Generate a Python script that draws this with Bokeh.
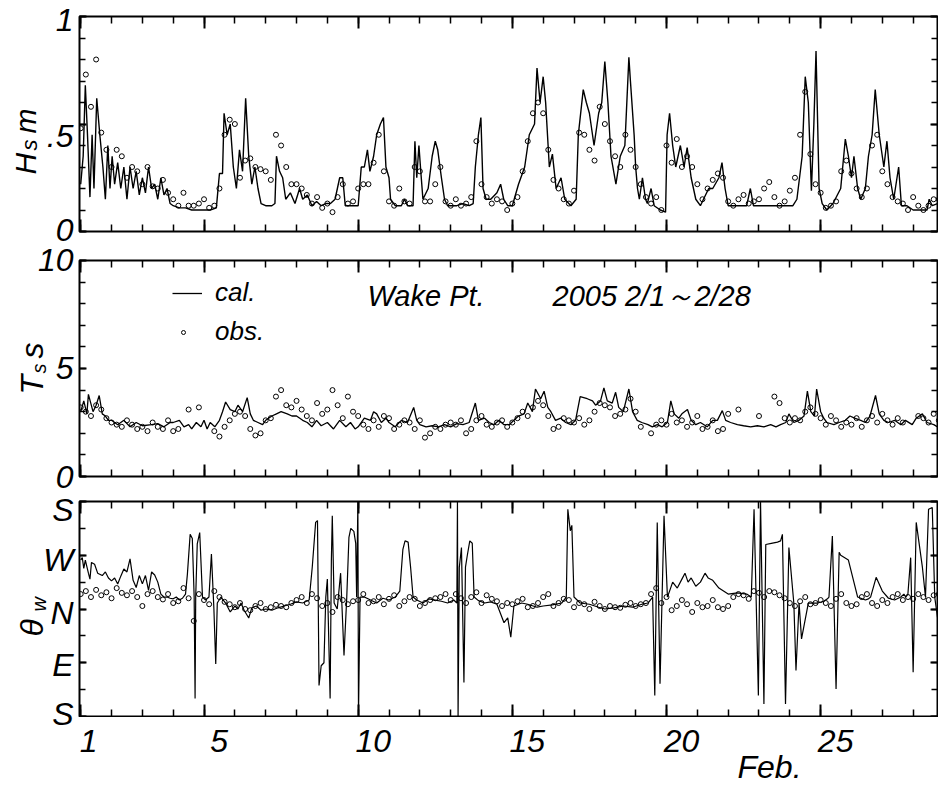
import math
from bokeh.plotting import figure
from bokeh.models import (LinearAxis, FixedTicker, Range1d, Label, Legend, LegendItem)
from bokeh.layouts import column, row
from bokeh.embed import file_html
from bokeh.resources import INLINE

nan = float("nan")

# ---------------- data ----------------
x_ticks = [1, 5, 10, 15, 20, 25]
x_tick_labels = ["1", "5", "10", "15", "20", "25"]
x_minor = list(range(1, 29))

hs_ticks = [0, 0.5, 1]
hs_tick_labels = ["0", ".5", "1"]
ts_ticks = [0, 5, 10]
ts_tick_labels = ["0", "5", "10"]
dir_ticks = [0, 90, 180, 270, 360]
dir_labels = ["S", "E", "N", "W", "S"]

# significant wave height (m), calculated: (day, value)
hs_cal_t = [1.0,1.08,1.15,1.22,1.3,1.37,1.43,1.52,1.62,1.72,1.8,1.88,1.95,2.02,2.1,2.2,2.3,2.4,2.5,2.6,2.7,2.8,2.9,3.0,3.1,3.2,3.3,3.4,3.5,3.6,3.7,3.8,3.9,4.0,4.2,4.4,4.6,4.8,5.0,5.2,5.4,5.5,5.6,5.65,5.75,5.85,5.95,6.05,6.15,6.25,6.35,6.45,6.55,6.65,6.75,6.85,7.0,7.2,7.3,7.35,7.45,7.55,7.65,7.8,7.95,8.1,8.2,8.35,8.5,8.65,8.8,8.95,
            9.1,9.25,9.4,9.5,9.58,9.8,10.0,10.1,10.2,10.3,10.38,10.5,10.6,10.72,10.82,10.9,11.0,11.05,11.2,11.4,11.5,11.6,11.78,11.84,11.9,11.97,12.03,12.1,12.27,12.4,12.5,12.58,12.7,12.8,12.9,13.2,13.4,13.6,13.73,13.8,13.9,13.98,14.05,14.15,14.3,14.5,14.62,14.72,14.85,15.0,15.2,15.4,15.55,15.72,15.8,15.9,16.0,16.08,16.2,16.3,16.42,16.58,16.7,16.9,17.07,17.14,17.3,17.4,17.5,17.65,17.8,17.9,18.0,18.1,18.2,18.36,18.5,18.65,18.78,18.83,
            18.95,19.0,19.06,19.12,19.22,19.32,19.38,19.5,19.6,19.8,19.97,20.02,20.1,20.2,20.3,20.45,20.57,20.67,20.8,20.95,21.1,21.2,21.37,21.5,21.7,21.8,21.9,22.0,22.3,22.6,22.72,22.82,23.0,23.4,23.8,24.1,24.23,24.4,24.5,24.6,24.7,24.78,24.85,24.95,25.05,25.2,25.4,25.65,25.8,25.9,26.0,26.08,26.2,26.3,26.45,26.55,26.67,26.77,26.9,27.05,27.15,27.25,27.37,27.53,27.62,27.8,28.0,28.45,28.52,28.62,28.79]
hs_cal_v = [0.22,0.35,0.68,0.45,0.16,0.45,0.2,0.62,0.45,0.3,0.15,0.4,0.2,0.35,0.22,0.32,0.2,0.3,0.15,0.3,0.2,0.28,0.17,0.25,0.18,0.3,0.2,0.22,0.15,0.25,0.17,0.2,0.13,0.12,0.11,0.11,0.1,0.1,0.1,0.1,0.11,0.27,0.27,0.55,0.45,0.5,0.3,0.2,0.38,0.28,0.62,0.35,0.22,0.3,0.2,0.13,0.12,0.12,0.13,0.35,0.28,0.25,0.15,0.18,0.13,0.2,0.15,0.17,0.12,0.14,0.12,0.13,
            0.13,0.15,0.25,0.25,0.12,0.12,0.12,0.3,0.3,0.38,0.28,0.35,0.45,0.5,0.53,0.3,0.25,0.15,0.12,0.12,0.15,0.12,0.12,0.42,0.25,0.4,0.28,0.15,0.2,0.35,0.42,0.38,0.25,0.15,0.12,0.12,0.13,0.12,0.13,0.3,0.45,0.53,0.2,0.15,0.15,0.18,0.22,0.15,0.12,0.12,0.22,0.3,0.45,0.5,0.76,0.6,0.72,0.6,0.3,0.36,0.2,0.25,0.15,0.12,0.15,0.45,0.66,0.6,0.55,0.4,0.55,0.6,0.79,0.6,0.35,0.22,0.35,0.4,0.81,0.7,
            0.45,0.3,0.2,0.15,0.25,0.15,0.13,0.2,0.12,0.1,0.09,0.45,0.55,0.4,0.3,0.4,0.3,0.39,0.25,0.15,0.12,0.15,0.2,0.2,0.25,0.32,0.2,0.12,0.12,0.12,0.2,0.12,0.12,0.12,0.12,0.12,0.15,0.35,0.72,0.6,0.19,0.5,0.84,0.2,0.13,0.1,0.13,0.2,0.43,0.35,0.25,0.35,0.2,0.15,0.2,0.35,0.45,0.66,0.45,0.3,0.42,0.25,0.15,0.3,0.12,0.12,0.1,0.1,0.15,0.12,0.13]

# observed Hs, every 4 h from Feb 1 00:00
hs_obs = [0.48,0.73,0.58,0.80,0.46,0.38, 0.30,0.38,0.35,0.25,0.30,0.28, 0.22,0.30,0.21,0.20,0.24,0.18,
          0.15,0.12,0.18,0.12,0.12,0.13, 0.15,0.11,0.12,0.20,0.45,0.52, 0.50,0.25,0.33,0.34,0.30,0.29,
          0.28,0.24,0.45,0.40,0.30,0.22, 0.22,0.20,0.17,0.13,0.16,0.11, 0.13,0.09,0.16,0.22,0.13,0.14,
          0.20,0.22,0.22,0.32,0.45,0.28, 0.14,0.12,0.20,0.14,0.13,0.30, 0.28,0.14,0.14,0.22,0.30,0.14,
          0.12,0.15,0.12,0.13,0.16,0.42, 0.22,0.16,0.13,0.15,0.14,0.10, 0.13,0.16,0.28,0.42,0.55,0.60,
          0.55,0.38,0.24,0.20,0.15,0.13, 0.19,0.46,0.45,0.38,0.33,0.58, 0.50,0.42,0.35,0.30,0.45,0.38,
          0.30,0.22,0.16,0.13,0.16,0.10, 0.40,0.32,0.43,0.30,0.35,0.30, 0.22,0.15,0.20,0.24,0.27,0.25,
          0.14,0.12,0.15,0.17,0.13,0.14, 0.15,0.20,0.23,0.16,0.12,0.14, 0.19,0.25,0.45,0.65,0.36,0.22,
          0.18,0.11,0.12,0.14,0.28,0.33, 0.27,0.20,0.16,0.20,0.40,0.45, 0.28,0.22,0.16,0.14,0.13,0.10,
          0.16,0.12,0.10,0.12,0.15,0.15]

# significant wave period (s), calculated: (day, value)
ts_cal_t = [1.0,1.1,1.2,1.25,1.4,1.5,1.6,1.7,1.8,1.9,2.0,2.2,2.4,2.6,2.8,3.0,3.3,3.5,3.7,3.9,4.0,4.2,4.35,4.5,4.6,4.75,4.9,5.0,5.1,5.2,5.35,5.5,5.6,5.7,5.85,6.0,6.1,6.25,6.4,6.5,6.6,6.75,6.9,7.0,7.2,7.35,7.5,7.7,7.85,8.0,8.2,8.35,8.5,8.65,8.8,9.0,9.2,9.4,9.6,9.75,9.9,10.0,10.2,10.4,10.5,10.6,10.75,10.9,11.0,11.2,11.4,11.6,11.8,11.9,12.0,12.2,12.4,12.6,12.8,13.0,13.2,13.4,13.6,13.8,13.9,14.1,14.25,14.4,14.57,14.73,14.9,
            15.05,15.2,15.38,15.5,15.65,15.75,15.92,16.03,16.15,16.25,16.4,16.57,16.73,16.9,17.05,17.2,17.43,17.6,17.7,17.86,17.97,18.08,18.24,18.35,18.45,18.6,18.78,18.9,19.05,19.2,19.4,19.54,19.7,19.86,20.03,20.14,20.25,20.4,20.5,20.68,20.8,20.95,21.1,21.32,21.5,21.65,21.81,21.92,22.08,22.3,22.5,22.73,22.95,23.16,23.38,23.55,23.7,23.87,23.97,24.13,24.3,24.46,24.57,24.68,24.8,24.87,25.0,25.1,25.2,25.43,25.6,25.8,25.95,26.1,26.3,26.45,26.6,26.78,26.9,27.05,27.2,27.4,27.6,27.75,27.97,28.1,28.3,28.45,28.67,28.79]
ts_cal_v = [3.0,3.5,2.9,3.8,3.0,3.3,3.75,2.9,2.8,2.6,2.6,2.4,2.6,2.3,2.5,2.35,2.4,2.45,2.3,2.5,2.5,2.6,2.3,2.4,2.2,2.5,2.3,2.6,2.2,2.5,2.3,2.6,3.0,3.45,3.1,3.0,3.3,3.0,3.65,2.9,2.6,2.5,2.4,2.6,2.8,2.9,3.0,2.9,2.8,2.8,2.6,2.5,2.3,2.6,2.35,2.5,2.2,2.6,2.3,2.5,2.2,2.3,2.7,2.6,3.0,2.9,2.5,2.7,2.5,2.3,2.6,2.5,3.2,2.6,2.4,2.3,2.35,2.3,2.4,2.3,2.45,2.4,2.5,3.4,2.6,2.7,2.5,2.4,2.6,2.4,2.4,
            2.6,2.8,2.9,3.4,3.0,4.05,3.6,3.95,3.2,3.0,2.6,2.7,2.5,2.4,2.6,3.7,3.6,3.5,3.3,3.5,4.1,3.5,3.4,3.9,3.2,3.0,4.05,3.0,2.6,2.5,2.4,2.3,2.4,2.3,2.5,3.5,2.9,2.7,2.9,3.1,2.6,2.4,2.5,2.3,2.6,2.6,3.05,2.6,2.5,2.4,2.35,2.3,2.35,2.3,2.4,2.3,2.4,2.5,2.9,2.5,2.6,2.8,3.95,3.0,2.8,4.05,3.0,2.7,2.5,2.4,2.5,2.6,2.8,2.7,2.6,2.5,2.8,3.75,2.9,2.6,2.5,2.6,2.4,2.6,2.4,2.7,2.9,2.5,2.4,2.3]

# observed Ts, every 4 h (nan = missing)
ts_obs = [3.2,3.0,2.8,3.3,3.1,2.7, 2.5,2.4,2.3,2.6,2.4,2.2, 2.3,2.1,2.5,2.3,2.2,2.6,
          2.1,2.2,nan,3.1,nan,3.2, nan,nan,2.1,1.85,2.3,2.6, 2.9,3.0,2.8,2.2,1.9,2.0,
          2.6,2.7,3.7,4.0,3.3,3.2, 3.5,3.1,2.8,2.6,3.4,2.9, 3.1,4.0,3.3,2.7,3.7,3.0,
          2.8,2.4,2.2,2.6,2.3,2.8, 2.7,2.2,2.4,2.6,2.5,2.2, 2.6,1.8,2.0,2.3,2.2,2.4,
          2.5,2.4,2.6,2.0,2.2,2.6, 2.8,2.4,2.3,2.5,2.6,2.3, 2.5,2.7,3.0,2.8,3.2,3.5,
          3.3,2.8,2.2,2.3,2.7,2.6, 2.5,2.7,2.4,2.6,3.0,3.4, 3.3,3.2,2.8,2.9,3.1,3.6,
          3.0,2.3,nan,2.0,2.4,2.6, 2.4,2.9,2.5,2.6,2.3,2.5, 2.8,2.2,2.3,2.6,2.1,2.2,
          2.9,nan,3.1,nan,nan,nan, 2.8,nan,nan,3.7,3.4,2.7, 2.5,2.7,2.6,3.0,3.2,2.9,
          2.7,2.4,2.8,2.6,2.3,2.5, 2.4,2.7,2.3,2.6,2.8,2.5, 2.9,2.6,2.4,2.7,2.5,nan,
          nan,2.8,2.7,2.5,2.9,2.6]

# wave direction (deg; S=0, E=90, N=180, W=270, S=360), calculated: (day, value)
th_cal_t = [1.0,1.05,1.1,1.15,1.25,1.3,1.35,1.45,1.55,1.7,1.8,1.9,2.0,2.1,2.2,2.3,2.4,2.5,2.6,2.7,2.8,2.9,3.0,3.1,3.2,3.3,3.4,3.5,3.6,3.7,3.8,3.9,4.0,4.1,4.2,4.3,4.4,4.46,4.55,4.62,4.68,4.71,4.73,4.78,4.86,4.95,5.05,5.16,5.24,5.32,5.38,5.43,5.55,5.7,5.85,6.0,6.1,6.2,6.3,6.45,6.55,6.7,6.85,7.0,7.2,7.4,7.6,7.8,8.0,8.2,8.41,8.51,8.62,8.68,8.73,8.8,8.89,8.95,9.0,9.09,9.13,9.16,9.22,9.32,9.43,9.54,9.63,9.7,9.76,9.86,9.92,9.95,9.99,10.01,10.06,10.2,10.4,10.6,10.8,11.0,11.2,11.35,11.45,11.52,11.62,11.7,11.78,11.9,12.1,12.3,12.5,12.7,12.9,13.1,13.2,13.22,13.24,13.28,13.35,13.43,13.48,13.54,13.62,13.7,13.76,13.9,14.1,14.3,14.5,14.73,14.85,14.95,15.05,15.3,15.5,15.8,16.0,16.3,16.6,16.75,16.8,16.88,16.93,17.0,17.2,17.5,17.8,18.0,18.3,18.6,18.9,19.2,19.4,19.55,19.62,19.7,19.79,19.92,20.03,20.1,20.2,20.35,20.5,20.6,20.7,20.8,20.95,21.1,21.25,21.35,21.5,21.7,21.85,22.0,22.3,22.6,22.75,22.84,22.98,23.05,23.16,23.22,23.4,23.6,23.7,23.76,23.86,23.97,24.13,24.2,24.3,24.38,24.6,24.9,25.1,25.22,25.27,25.38,25.5,25.6,25.65,25.9,26.2,26.45,26.55,26.62,26.8,27.0,27.2,27.4,27.6,27.7,27.76,27.83,27.92,28.0,28.1,28.3,28.4,28.5,28.62,28.7,28.79]
th_cal_v = [262,266,248,262,240,230,258,255,240,236,242,232,227,232,222,235,247,242,264,228,216,236,222,236,211,242,237,225,205,200,200,198,197,200,195,198,205,238,305,298,200,30,200,289,308,200,195,200,272,180,88,190,200,190,175,185,180,190,178,165,182,185,178,180,178,182,185,188,192,190,195,250,325,328,52,85,90,200,230,30,260,336,190,180,240,102,200,300,315,310,290,200,360,0,200,200,195,190,198,195,200,210,280,294,292,250,200,195,190,197,195,193,190,195,190,360,0,250,283,57,250,270,294,290,200,194,190,192,188,157,165,133,185,190,188,183,185,187,190,200,347,311,320,200,190,188,183,180,182,185,183,188,190,200,35,325,55,336,200,210,225,215,230,240,225,232,218,225,240,232,228,215,210,205,207,205,200,347,35,360,21,288,290,292,294,305,21,283,190,77,190,130,190,190,193,197,200,302,46,275,270,262,200,195,197,200,233,210,198,195,200,205,200,205,266,74,325,250,200,347,350,200,166,200,205]

# observed direction, every 4 h
th_obs = [205,210,200,212,203,208, 198,215,207,203,210,200, 185,205,210,200,196,205,
          190,193,215,198,160,205, 195,188,210,200,192,188, 183,190,180,178,185,190,
          180,183,187,185,183,190, 195,200,190,205,198,185, 190,175,200,195,188,193,
          195,205,190,193,200,188, 197,203,185,193,200,197, 185,190,195,198,200,205,
          195,205,198,190,200,208, 190,203,197,193,185,190, 188,193,197,183,185,190,
          200,205,185,190,197,195, 183,190,188,180,192,185, 180,185,183,182,187,190,
          185,188,190,205,215,190, 200,178,185,195,188,175, 190,183,185,195,183,180,
          185,200,205,203,197,210, 207,200,210,208,203,198, 190,185,193,200,188,190,
          195,190,185,197,205,190, 185,188,200,205,190,185, 195,190,200,205,195,200,
          197,205,200,195,203,205]

# ---------------- layout constants ----------------
FONT = "Liberation Sans"
W, HT = 938, 785
ML = 78            # width of the left text column
FL, FR = 79, 937   # frame edges on the page
X0, X1 = 0.961, 28.79
UP = math.pi / 2


def obs_time(n):
    return [1.0 + i / 6.0 for i in range(n)]


def page_to_day(sx):
    return X0 + (sx - FL) / (FR - FL) * (X1 - X0)


def make_fig(top, fh, bottom, y0, y1):
    p = figure(frame_width=FR - FL, frame_height=fh,
               x_range=Range1d(X0, X1), y_range=Range1d(y0, y1),
               x_axis_type=None, y_axis_type=None, toolbar_location=None,
               output_backend="svg", min_border_left=FL - ML, min_border_right=W - FR,
               min_border_top=top, min_border_bottom=bottom, frame_align=False)
    p.outline_line_color = "black"
    p.outline_line_width = 2
    p.background_fill_color = "white"
    p.border_fill_color = "white"
    return p


def text_fig(w, h, x_range):
    f = figure(frame_width=w, frame_height=h, x_range=x_range, y_range=Range1d(h, 0),
               x_axis_type=None, y_axis_type=None, toolbar_location=None,
               output_backend="svg", min_border=0, outline_line_color=None,
               frame_align=False)
    f.background_fill_color = "white"
    f.border_fill_color = "white"
    return f


def add_axis(p, side, ticks, minor, major_in=10, minor_in=6):
    ax = LinearAxis(ticker=FixedTicker(ticks=ticks, minor_ticks=minor))
    ax.major_tick_in = major_in
    ax.major_tick_out = 0
    ax.minor_tick_in = minor_in
    ax.minor_tick_out = 0
    ax.major_tick_line_width = 2
    ax.minor_tick_line_width = 1.5
    ax.axis_line_color = None
    ax.major_label_text_color = None
    ax.major_label_text_font_size = "1px"
    ax.major_label_standoff = 0
    p.add_layout(ax, side)


def frame_axes(p, yt, yminor):
    add_axis(p, "left", yt, yminor, major_in=7, minor_in=6)
    add_axis(p, "right", yt, yminor, major_in=7, minor_in=6)
    add_axis(p, "below", x_ticks, x_minor, major_in=12, minor_in=7)
    add_axis(p, "above", x_ticks, x_minor, major_in=12, minor_in=7)


def text(p, x, y, s, size, angle=0.0, align="left", x_offset=0):
    # Label centres the text box vertically on (x, y)
    p.add_layout(Label(x=x, y=y, text=s, angle=angle, x_offset=x_offset,
                       text_font=FONT, text_font_style="italic", text_font_size=size,
                       text_color="black", text_align=align, text_baseline="middle"))


def vtitle(p, base_x, start_y, s, px):
    # rotated title piece: baseline at base_x, text starting at start_y going up
    text(p, base_x - 0.35 * px, start_y, s, f"{px}px", angle=UP)


# left text column, in page pixels (y from the top)
left = text_fig(ML, HT, Range1d(0, ML))

# ---------------- panel 1: Hs ----------------
T1, F1, B1 = 16, 215, 16
H1 = T1 + F1 + B1
p1 = make_fig(T1, F1, B1, 0, 1)
frame_axes(p1, hs_ticks, [i / 10 for i in range(11)])
p1.line(hs_cal_t, hs_cal_v, line_color="black", line_width=1.4)
p1.scatter(obs_time(len(hs_obs)), hs_obs, marker="circle", size=5, fill_color=None,
           line_color="black", line_width=1)
for lab, yy in zip(hs_tick_labels, [229, 135, 19]):
    text(left, 73, yy, lab, "32px", align="right")
vtitle(left, 35, 174, "H", 30)
vtitle(left, 37, 150, "s", 22)
vtitle(left, 35, 133, "m", 30)

# ---------------- panel 2: Ts ----------------
T2, F2, B2 = 13, 216, 12
H2 = T2 + F2 + B2
p2 = make_fig(T2, F2, B2, 0, 10)
frame_axes(p2, ts_ticks, list(range(11)))
r_cal = p2.line(ts_cal_t, ts_cal_v, line_color="black", line_width=1.3)
r_obs = p2.scatter(obs_time(len(ts_obs)), ts_obs, marker="circle", size=5, fill_color=None,
                   line_color="black", line_width=1)
leg_style = dict(padding=0, margin=0, spacing=0, label_height=30,
                 label_text_font=FONT, label_text_font_style="italic",
                 label_text_font_size="26px", label_text_color="black",
                 border_line_color=None, background_fill_alpha=0)
leg1 = Legend(items=[LegendItem(label="cal.", renderers=[r_cal])], location=(93, 168),
              glyph_width=30, glyph_height=30, label_standoff=13, **leg_style)
leg2 = Legend(items=[LegendItem(label="obs.", renderers=[r_obs])], location=(99, 129),
              glyph_width=10, glyph_height=10, label_standoff=27, **leg_style)
p2.add_layout(leg1)
p2.add_layout(leg2)
y_note = 10 * (476 - 295) / 216
text(p2, page_to_day(367), y_note, "Wake Pt.", "29px")
text(p2, page_to_day(552), y_note, "2005  2/1\uff5e2/28", "29px")
for lab, yy in zip(ts_tick_labels, [476, 367, 259]):
    text(left, 73, yy, lab, "32px", align="right")
vtitle(left, 43, 394, "T", 32)
vtitle(left, 45, 373, "s", 20)
vtitle(left, 43, 358, "s", 32)

# ---------------- panel 3: direction ----------------
T3, F3, B3 = 13, 215, 1
H3 = T3 + F3 + B3
p3 = make_fig(T3, F3, B3, 0, 360)
frame_axes(p3, dir_ticks, list(range(0, 361, 45)))
p3.line(th_cal_t, th_cal_v, line_color="black", line_width=1.2)
p3.scatter(obs_time(len(th_obs)), th_obs, marker="circle", size=5, fill_color=None,
           line_color="black", line_width=1)
for lab, yy in zip(dir_labels, [713, 664, 612, 559, 509]):
    text(left, 73, yy, lab, "32px", align="right")
vtitle(left, 43, 636, "\u03b8", 32)
vtitle(left, 45, 611, "w", 20)

# ---------------- bottom strip: x tick labels ----------------
o4 = H1 + H2 + H3
H4 = HT - o4
s4 = text_fig(W - ML, H4, Range1d(page_to_day(ML), page_to_day(W)))
for d, lab in zip(x_ticks, x_tick_labels):
    text(s4, d, 740 - o4, lab, "32px", align="center", x_offset=8 if lab == "1" else 15)
text(s4, page_to_day(737), 766 - o4, "Feb.", "32px")

layout = row(left, column(p1, p2, p3, s4, spacing=0), spacing=0)
open("out.html", "w").write(file_html(layout, INLINE))
